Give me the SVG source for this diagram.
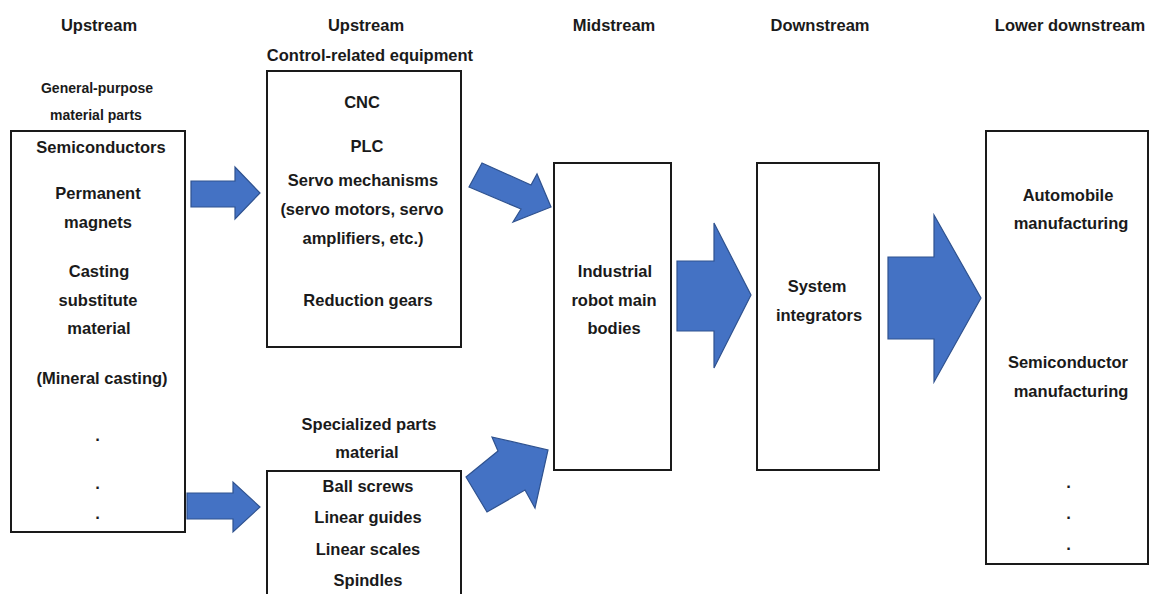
<svg xmlns="http://www.w3.org/2000/svg" width="1149" height="594" viewBox="0 0 1149 594">
<style>
.t{font-family:"Liberation Sans",Arial,sans-serif;font-weight:bold;font-size:16.5px;fill:#1a1a1a;text-anchor:middle}
.s{font-size:14px}
.box{fill:#fff;stroke:#1a1a1a;stroke-width:2}
.arr{fill:#4472C4;stroke:#2F528F;stroke-width:1.2;stroke-linejoin:miter}
</style>
<rect width="1149" height="594" fill="#fff"/>
<g id="headers">
<text class="t" x="99" y="31">Upstream</text>
<text class="t" x="366" y="31">Upstream</text>
<text class="t" x="370" y="61">Control-related equipment</text>
<text class="t" x="614" y="31">Midstream</text>
<text class="t" x="820" y="31">Downstream</text>
<text class="t" x="1070" y="31">Lower downstream</text>
</g>
<g id="general-purpose">
<text class="t s" x="97" y="93">General-purpose</text>
<text class="t s" x="96" y="120">material parts</text>
<rect class="box" x="11" y="131" width="174" height="401"/>
<text class="t" x="101" y="153">Semiconductors</text>
<text class="t" x="98" y="199">Permanent</text>
<text class="t" x="98" y="228">magnets</text>
<text class="t" x="99" y="277">Casting</text>
<text class="t" x="98" y="306">substitute</text>
<text class="t" x="99" y="334">material</text>
<text class="t" x="102" y="384">(Mineral casting)</text>
<text class="t" x="98" y="445">·</text>
<text class="t" x="98" y="493">·</text>
<text class="t" x="98" y="523">·</text>
</g>
<g id="control-equipment">
<rect class="box" x="267" y="71" width="194" height="276"/>
<text class="t" x="362" y="108">CNC</text>
<text class="t" x="367" y="152">PLC</text>
<text class="t" x="363" y="186">Servo mechanisms</text>
<text class="t" x="362" y="215">(servo motors, servo</text>
<text class="t" x="363" y="244">amplifiers, etc.)</text>
<text class="t" x="368" y="306">Reduction gears</text>
</g>
<g id="specialized-parts">
<text class="t" x="369" y="430">Specialized parts</text>
<text class="t" x="367" y="458">material</text>
<rect class="box" x="267" y="471" width="194" height="130"/>
<text class="t" x="368" y="492">Ball screws</text>
<text class="t" x="368" y="523">Linear guides</text>
<text class="t" x="368" y="555">Linear scales</text>
<text class="t" x="368" y="586">Spindles</text>
</g>
<g id="robot-bodies">
<rect class="box" x="554" y="163" width="117" height="307"/>
<text class="t" x="615" y="277">Industrial</text>
<text class="t" x="614" y="306">robot main</text>
<text class="t" x="614" y="334">bodies</text>
</g>
<g id="system-integrators">
<rect class="box" x="757" y="163" width="122" height="307"/>
<text class="t" x="817" y="292">System</text>
<text class="t" x="819" y="321">integrators</text>
</g>
<g id="lower-downstream">
<rect class="box" x="986" y="131" width="162" height="433"/>
<text class="t" x="1068" y="201">Automobile</text>
<text class="t" x="1071" y="229">manufacturing</text>
<text class="t" x="1068" y="368">Semiconductor</text>
<text class="t" x="1071" y="397">manufacturing</text>
<text class="t" x="1069" y="492">·</text>
<text class="t" x="1069" y="523">·</text>
<text class="t" x="1069" y="554">·</text>
</g>
<g id="connectors">
<polygon class="arr" points="191,181 235,181 235,167 260,193 235,219 235,207 191,207"/>
<polygon class="arr" points="187,493 233,493 233,482 260,507 233,532 233,519 187,519"/>
<polygon class="arr" points="482,163 531,185 537,174 551,207 513,222 521,209 469,187"/>
<polygon class="arr" points="466,477 498,451 492,437 548,450 535,508 525,490 487,512"/>
<polygon class="arr" points="677,261 714,261 714,223 751,295 714,368 714,331 677,331"/>
<polygon class="arr" points="888,257 934,257 934,215 981,298 934,382 934,339 888,339"/>
</g>
</svg>
